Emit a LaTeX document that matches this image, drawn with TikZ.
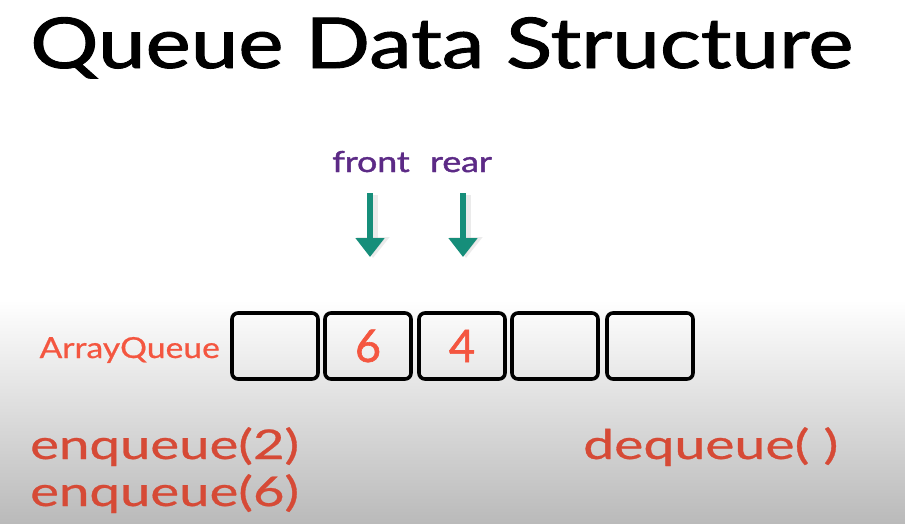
\documentclass[tikz,border=0pt]{standalone}
\usepackage{fontspec}
\setmainfont{Lato}[FakeBold=1.3,AutoFakeBold=0]
\newfontfamily\lightlato{Lato}[FakeBold=0.6]
\usetikzlibrary{arrows.meta}
\definecolor{qpurple}{RGB}{92,42,134}
\definecolor{qteal}{RGB}{22,142,122}
\definecolor{qred}{RGB}{244,86,64}
\definecolor{qdark}{RGB}{214,74,54}
\definecolor{qgray}{RGB}{186,186,186}
% widen a piece of text horizontally
\newcommand{\xstretch}[2]{\scalebox{#1}[1]{#2}}
\tikzset{
  cell/.style={draw=black, line width=3.6pt, rounded corners=6pt,
    minimum width=86pt, minimum height=66pt, inner sep=0pt,
    text=qred, font=\fontsize{45}{45}\selectfont},
  pointer/.style={qpurple, font=\fontsize{29}{29}\selectfont, anchor=base, inner sep=0pt},
  pointarrow/.style={qteal, line width=6pt,
    -{Triangle[width=28pt,length=19pt]}},
  pointshadow/.style={black!25, opacity=0.3, line width=9pt,
    -{Triangle[width=32pt,length=21pt]}},
  op/.style={qdark, font=\lightlato\fontsize{41}{41}\selectfont, anchor=base west, inner sep=0pt},
}
\begin{document}
\begin{tikzpicture}[x=1pt,y=-1pt]
  % page and background shade
  \useasboundingbox (0,0) rectangle (905,523);
  \fill[white] (0,0) rectangle (905,300);
  \shade[top color=white, bottom color=qgray] (0,300) rectangle (905,523);

  % title
  \node[anchor=base west, inner sep=0pt, font=\fontsize{70}{70}\selectfont]
    (title) at (30,68) {\xstretch{1.22}{Queue Data Structure}};

  % array cells
  \node[cell] (c0) at (275,346) {};
  \node[cell] (c1) at (368,346) {6};
  \node[cell] (c2) at (462,346) {4};
  \node[cell] (c3) at (555,346) {};
  \node[cell] (c4) at (650,346) {};

  \node[anchor=base east, inner sep=0pt, text=qred,
    font=\lightlato\fontsize{29}{29}\selectfont] (name) at (220,358) {\xstretch{1.16}{ArrayQueue}};

  % pointer labels and arrows
  \node[pointer] (front) at (371,172) {\xstretch{1.23}{front}};
  \node[pointer] (rear)  at (461,172) {\xstretch{1.23}{rear}};
  \coordinate (fs) at (370,193);
  \coordinate (fe) at (370,257);
  \coordinate (rs) at (463,193);
  \coordinate (re) at (463,257);
  \draw[pointshadow] ([xshift=3pt,yshift=-2pt]fs) -- ([xshift=3pt,yshift=-1pt]fe);
  \draw[pointshadow] ([xshift=3pt,yshift=-2pt]rs) -- ([xshift=3pt,yshift=-1pt]re);
  \draw[pointarrow] (fs) -- (fe);
  \draw[pointarrow] (rs) -- (re);

  % operations
  \node[op] (enq2) at (30,459) {\xstretch{1.33}{enqueue(2)}};
  \node[op] (enq6) at (30,506) {\xstretch{1.33}{enqueue(6)}};
  \node[op] (deq)  at (583,459) {\xstretch{1.35}{dequeue( )}};
\end{tikzpicture}
\end{document}
